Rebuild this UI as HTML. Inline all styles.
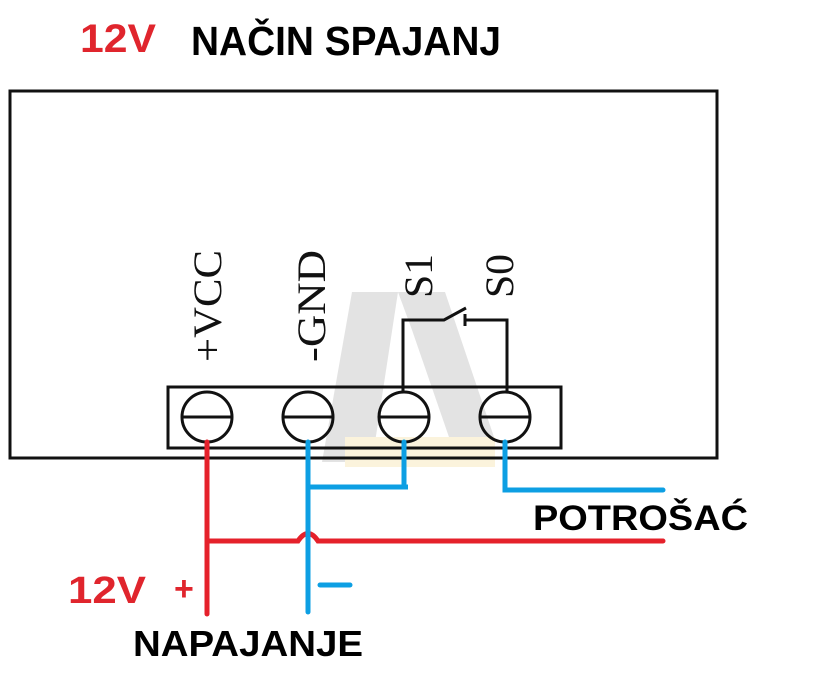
<!DOCTYPE html>
<html><head><meta charset="utf-8"><style>
html,body{margin:0;padding:0;background:#fff;}
svg{display:block;}
</style></head><body>
<svg width="814" height="690" viewBox="0 0 814 690" xmlns="http://www.w3.org/2000/svg">
<rect width="814" height="690" fill="#fff"/>
<!-- watermark -->
<polygon points="322,462 352,292 398,292 372,462" fill="#e3e3e3"/>
<polygon points="398,292 445,292 495,440 450,440 412,330" fill="#e3e3e3"/>
<rect x="345" y="437" width="150" height="30" fill="#fbf3dc"/>
<!-- titles -->
<text x="80" y="52" font-family="Liberation Sans, sans-serif" font-size="40" font-weight="bold" fill="#e0252d" textLength="76" lengthAdjust="spacingAndGlyphs">12V</text>
<text x="191" y="55" font-family="Liberation Sans, sans-serif" font-size="41" font-weight="bold" fill="#000" textLength="310" lengthAdjust="spacingAndGlyphs">NAČIN SPAJANJ</text>
<!-- box -->
<rect x="10" y="91" width="707" height="367" fill="none" stroke="#111" stroke-width="3"/>
<rect x="168" y="387" width="393" height="61" fill="none" stroke="#111" stroke-width="3"/>
<!-- screws -->
<g fill="none" stroke="#111" stroke-width="3">
<circle cx="207" cy="417" r="25"/><line x1="182" y1="417" x2="232" y2="417"/>
<circle cx="308" cy="417" r="25"/><line x1="283" y1="417" x2="333" y2="417"/>
<circle cx="404" cy="417" r="25"/><line x1="379" y1="417" x2="429" y2="417"/>
<circle cx="505" cy="417" r="25"/><line x1="480" y1="417" x2="530" y2="417"/>
<polyline points="403,392 403,320 444,320 466,308"/>
<line x1="465" y1="314" x2="465" y2="326"/>
<polyline points="465,320 507,320 507,392"/>
</g>
<!-- rotated labels -->
<g font-family="Liberation Serif, serif" font-size="40" fill="#111">
<text transform="translate(221,362) rotate(-90)" textLength="112" lengthAdjust="spacingAndGlyphs">+VCC</text>
<text transform="translate(325,362) rotate(-90)" textLength="112" lengthAdjust="spacingAndGlyphs">-GND</text>
<text transform="translate(432,298) rotate(-90)" textLength="44" lengthAdjust="spacingAndGlyphs">S1</text>
<text transform="translate(513,298) rotate(-90)" textLength="44" lengthAdjust="spacingAndGlyphs">S0</text>
</g>
<!-- wires -->
<g fill="none" stroke-width="5" stroke-linecap="round">
<polyline stroke="#e5212b" points="207,442 207,614"/>
<path stroke="#e5212b" d="M207,541 H298 Q308,526 318,541 H663"/>
<polyline stroke="#0d9fe3" points="308,442 308,612"/>
<polyline stroke="#0d9fe3" points="308,487 408,487 404,487 404,442"/>
<polyline stroke="#0d9fe3" points="505,442 505,490 663,490"/>
<line stroke="#0d9fe3" x1="320" y1="585" x2="350" y2="585"/>
</g>
<text x="533" y="530" font-family="Liberation Sans, sans-serif" font-size="35" font-weight="bold" fill="#000" textLength="215" lengthAdjust="spacingAndGlyphs">POTROŠAĆ</text>
<text x="68" y="603" font-family="Liberation Sans, sans-serif" font-size="38" font-weight="bold" fill="#e0252d" textLength="78" lengthAdjust="spacingAndGlyphs">12V</text>
<text x="174" y="600" font-family="Liberation Sans, sans-serif" font-size="34" font-weight="bold" fill="#e0252d">+</text>
<text x="133" y="656" font-family="Liberation Sans, sans-serif" font-size="36" font-weight="bold" fill="#000" textLength="230" lengthAdjust="spacingAndGlyphs">NAPAJANJE</text>
</svg>
</body></html>
